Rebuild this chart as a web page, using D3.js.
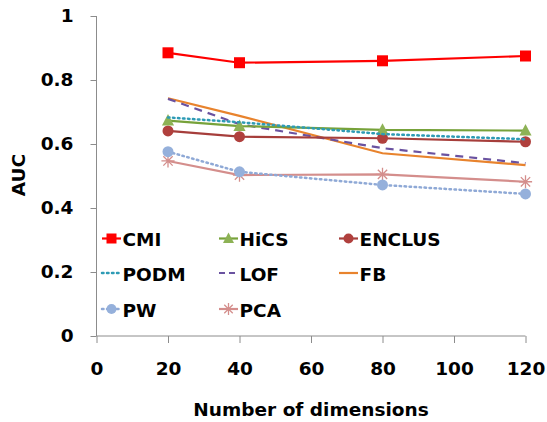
<!DOCTYPE html>
<html><head><meta charset="utf-8">
<script src="https://cdn.jsdelivr.net/npm/d3@7"></script>
<style>
body{margin:0;background:#fff;}
text{font-family:"DejaVu Sans",sans-serif;font-weight:bold;fill:#000;}
</style></head>
<body><svg id="c" width="547" height="422"></svg>
<script>
const dims = [20, 40, 80, 120];
const xTicks = [0, 20, 40, 60, 80, 100, 120];
const yTicks = [0, 0.2, 0.4, 0.6, 0.8, 1];
const seriesNames = ["CMI","HiCS","ENCLUS","PODM","LOF","FB","PW","PCA"];
const CMI    = [0.885, 0.854, 0.860, 0.875];
const HiCS   = [0.673, 0.656, 0.644, 0.642];
const ENCLUS = [0.641, 0.623, 0.618, 0.607];
const PODM   = [0.683, 0.668, 0.631, 0.615];
const LOF    = [0.741, 0.662, 0.587, 0.540];
const FB     = [0.743, 0.688, 0.571, 0.534];
const PW     = [0.576, 0.513, 0.472, 0.444];
const PCA    = [0.547, 0.503, 0.505, 0.482];
const values = {CMI,HiCS,ENCLUS,PODM,LOF,FB,PW,PCA};
const styles = {
  CMI:{color:"#FF0000",dash:null,marker:"square",mfill:"#FF0000",w:2.2},
  HiCS:{color:"#77A23A",dash:null,marker:"triangle",mfill:"#8DB255",w:2.2},
  ENCLUS:{color:"#A63E3B",dash:null,marker:"circle",mfill:"#B0403D",w:2.2},
  PODM:{color:"#2E9BB5",dash:"1.5,3.5",marker:null,w:2.5,cap:"round"},
  LOF:{color:"#6A52A0",dash:"8,6",marker:null,w:2.2},
  FB:{color:"#E8832D",dash:null,marker:null,w:2.2},
  PW:{color:"#8FA9D6",dash:"1.5,3.5",marker:"circle",mfill:"#95B0DB",w:2.5,cap:"round"},
  PCA:{color:"#D48E8C",dash:null,marker:"star",mfill:"#D48E8C",w:2.2}
};
const svg = d3.select("#c");
const x = d3.scaleLinear().domain([0,120]).range([96.5,525.5]);
const y = d3.scaleLinear().domain([0,1]).range([336,16]);
const axisColor = "#8C8C8C";
const FS = "18.5px";

const ya = svg.append("g").attr("transform","translate(96.5,0)")
  .call(d3.axisLeft(y).tickValues(yTicks).tickSize(6).tickPadding(17).tickFormat(d=>d===0||d===1?String(d):d3.format(".1f")(d)));
ya.select(".domain").attr("stroke",axisColor).attr("d","M0,16V336");
ya.selectAll(".tick line").attr("stroke",axisColor);
ya.selectAll(".tick text").style("font-size",FS).attr("fill","#000");
const xa = svg.append("g").attr("transform","translate(0,336)")
  .call(d3.axisBottom(x).tickValues(xTicks).tickSize(7).tickPadding(19));
xa.select(".domain").attr("stroke",axisColor).attr("d","M96.5,0H525.5");
xa.selectAll(".tick line").attr("stroke",axisColor);
xa.selectAll(".tick text").style("font-size",FS).attr("fill","#000");

svg.append("text").attr("transform","translate(25,175) rotate(-90)").attr("text-anchor","middle")
  .style("font-size",FS).text("AUC");
svg.append("text").attr("x",311).attr("y",416).attr("text-anchor","middle")
  .style("font-size",FS).text("Number of dimensions");

function drawMarker(g, type, cx, cy, st, s){
  if(type==="square"){
    g.append("rect").attr("x",cx-s).attr("y",cy-s).attr("width",2*s).attr("height",2*s).attr("fill",st.mfill);
  } else if(type==="triangle"){
    g.append("path").attr("d",`M${cx},${cy-s*1.2}L${cx+s*1.1},${cy+s*0.9}L${cx-s*1.1},${cy+s*0.9}Z`).attr("fill",st.mfill);
  } else if(type==="circle"){
    g.append("circle").attr("cx",cx).attr("cy",cy).attr("r",s).attr("fill",st.mfill);
  } else if(type==="star"){
    const p=[];
    for(let i=0;i<4;i++){const a=i*Math.PI/4;p.push(`M${cx-Math.cos(a)*s*1.2},${cy-Math.sin(a)*s*1.2}L${cx+Math.cos(a)*s*1.2},${cy+Math.sin(a)*s*1.2}`);}
    g.append("path").attr("d",p.join("")).attr("stroke",st.mfill).attr("stroke-width",1.3).attr("fill","none");
  }
}
const line = d3.line().x(d=>x(d[0])).y(d=>y(d[1]));
const order = ["PCA","PW","FB","LOF","ENCLUS","HiCS","PODM","CMI"];
order.forEach(name=>{
  const st=styles[name]; const pts=dims.map((d,i)=>[d,values[name][i]]);
  const g=svg.append("g");
  g.append("path").attr("d",line(pts)).attr("fill","none").attr("stroke",st.color)
   .attr("stroke-width",st.w).attr("stroke-dasharray",st.dash).attr("stroke-linecap",st.cap||"butt");
  if(st.marker) pts.forEach(p=>drawMarker(g,st.marker,x(p[0]),y(p[1]),st,5.5));
});

const legX=[102,219,339], legY=[238.5,273,309];
seriesNames.forEach((name,i)=>{
  const st=styles[name]; const lx=legX[i%3], ly=legY[Math.floor(i/3)];
  const g=svg.append("g");
  g.append("line").attr("x1",lx).attr("x2",lx+19).attr("y1",ly).attr("y2",ly).attr("stroke",st.color)
   .attr("stroke-width",st.w).attr("stroke-dasharray",st.dash?(name==="LOF"?"6,4":st.dash):null).attr("stroke-linecap",st.cap||"butt");
  if(st.marker) drawMarker(g,st.marker,lx+9.5,ly,st,5);
  g.append("text").attr("x",lx+20.5).attr("y",ly+7.5).style("font-size",FS).text(name);
});
</script></body></html>
